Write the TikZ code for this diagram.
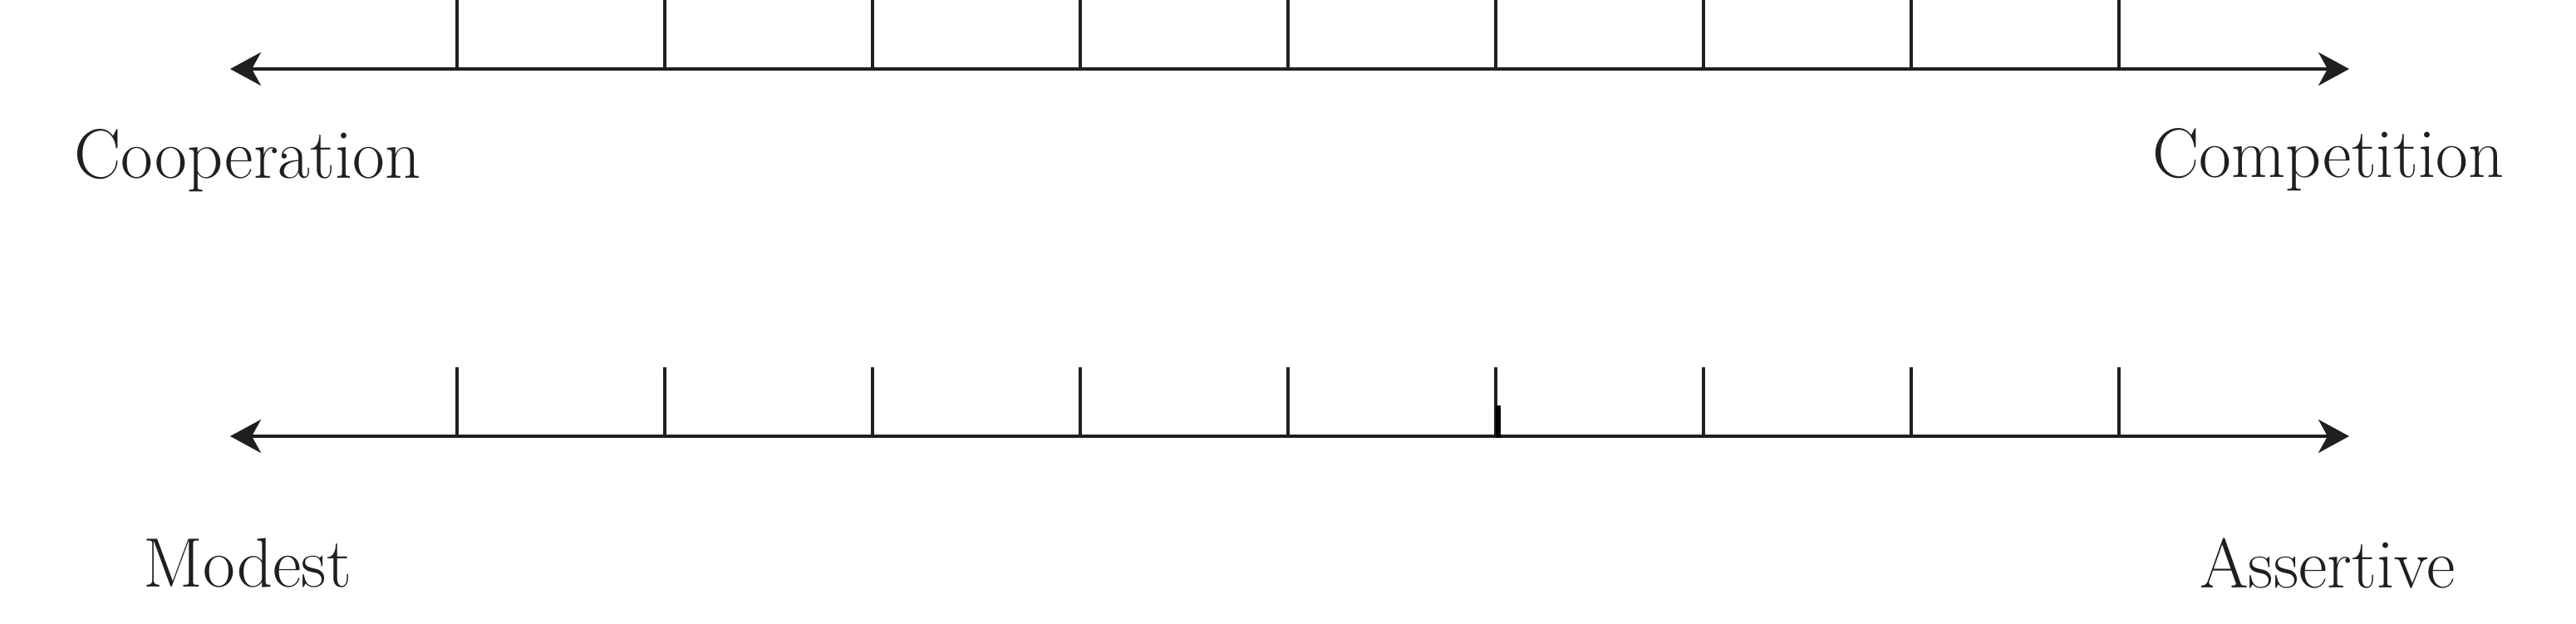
\documentclass[tikz,border=0pt]{standalone}
\usepackage{xcolor}
\usepackage{tikz}
\usetikzlibrary{arrows.meta}

\tikzset{
  scaleline/.style={line width=1.15pt, draw=black!88, {Stealth[length=3.7mm, width=4mm, inset=1.1mm]}-{Stealth[length=3.7mm, width=4mm, inset=1.1mm]}},
  scaletick/.style={line width=1.15pt, draw=black!88},
  endlabel/.style={anchor=base, inner sep=0pt, text=black!88, font=\fontsize{24}{27}\selectfont}
}

\begin{document}
\begin{tikzpicture}
          \useasboundingbox (0,0) rectangle (31,7.5);
          % upper scale
          \coordinate (coopend) at (2.77,6.67);
          \coordinate (compend) at (28.27,6.67);
          \draw[scaleline] (coopend) -- (compend);
          \foreach \k in {0,...,8}
            \draw[scaletick] (5.5+2.5*\k,6.67) -- ++(0,0.85);
          \node[endlabel] (coop) at (2.98,5.35) {Cooperation};
          \node[endlabel] (comp) at (28.02,5.37) {Competition};
          % lower scale
          \coordinate (modend) at (2.77,2.25);
          \coordinate (assend) at (28.27,2.25);
          \draw[scaleline] (modend) -- (assend);
          \foreach \k in {0,...,8}
            \draw[scaletick] (5.5+2.5*\k,2.25) -- ++(0,0.83);
          \draw[line width=1.7pt, draw=black] (18.03,2.23) -- (18.03,2.62);
          \node[endlabel] (mod) at (2.98,0.44) {Modest};
          \node[endlabel] (ass) at (28.01,0.43) {Assertive};
        \end{tikzpicture}
\end{document}
